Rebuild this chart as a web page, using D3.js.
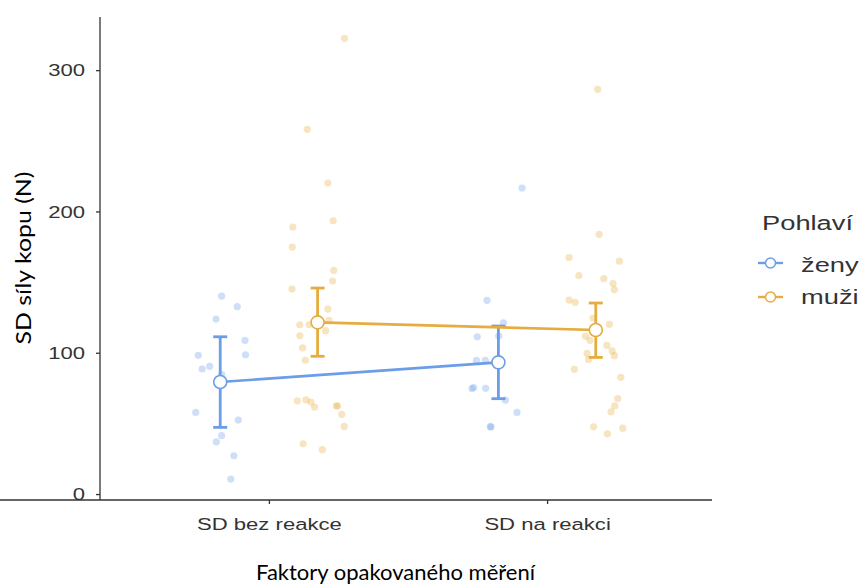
<!DOCTYPE html>
<html>
<head>
<meta charset="utf-8">
<script src="https://cdn.jsdelivr.net/npm/d3@7"></script>
<style>
  body { margin: 0; background: #fff; }
  svg { display: block; }
</style>
</head>
<body>
<div id="chart"></div>
<script>
// Categories and groups
const categories = ['SD bez reakce', 'SD na reakci'];
const groups = ['ženy', 'muži'];
const groupColors = ['#6B9DE8', '#E6AC40'];

// Means and 95% CI per group, per category
const meanZeny = [79.3, 93.2];
const lowZeny = [47.2, 67.5];
const highZeny = [111.3, 118.9];
const meanMuzi = [121.5, 116.1];
const lowMuzi = [97.5, 96.7];
const highMuzi = [145.8, 135.2];

// Raw observations (values) and jitter (fraction of category step)
const zenyBez = [140.1, 132.6, 123.8, 108.8, 98.2, 98.6, 88.5, 90.4, 84.7, 57.8, 52.4, 41.3, 37.0, 27.1, 10.6];
const zenyBezJit = [0.005, 0.061, -0.015, 0.089, -0.079, 0.091, -0.065, -0.038, 0.005, -0.088, 0.065, 0.005, -0.014, 0.049, 0.038];
const zenyNa = [216.6, 137.1, 121.2, 111.3, 111.8, 94.6, 94.6, 74.7, 75.4, 74.8, 66.5, 57.8, 47.9, 47.4, 91.0];
const zenyNaJit = [0.085, -0.041, 0.018, -0.076, 0.001, -0.079, -0.047, -0.095, -0.089, -0.046, 0.025, 0.067, -0.029, -0.027, -0.007];
const muziBez = [322.5, 258.1, 220.1, 193.4, 189.0, 174.8, 158.3, 150.7, 145.1, 130.9, 122.9, 119.8, 120.0, 115.6, 112.0, 103.5, 94.7, 66.0, 66.7, 65.1, 61.6, 62.5, 62.3, 56.4, 47.9, 35.6, 31.4];
const muziBezJit = [0.097, -0.037, 0.037, 0.056, -0.089, -0.091, 0.058, 0.054, -0.092, 0.037, 0.041, -0.064, -0.030, 0.029, -0.064, -0.054, -0.044, -0.073, -0.042, -0.024, -0.011, 0.067, 0.072, 0.087, 0.096, -0.052, 0.017];
const muziNa = [286.4, 183.8, 167.4, 164.8, 154.6, 152.4, 149.0, 144.7, 137.3, 135.7, 124.6, 120.1, 111.7, 108.8, 105.2, 101.3, 97.9, 99.6, 95.3, 88.3, 82.6, 67.6, 62.4, 58.2, 47.6, 42.6, 46.6];
const muziNaJit = [0.007, 0.012, -0.096, 0.085, -0.061, 0.029, 0.062, 0.067, -0.096, -0.074, -0.010, 0.049, -0.037, -0.021, 0.040, 0.059, 0.067, -0.031, -0.026, -0.077, 0.090, 0.079, 0.068, 0.055, -0.008, 0.042, 0.097];

const yTicks = [0, 100, 200, 300];

const W = 863, H = 586;
const dodge = [-0.175, 0.175];
const stretch = 1.3; // reference text is horizontally stretched

const svg = d3.select('#chart').append('svg')
    .attr('width', W).attr('height', H);

const x = d3.scalePoint().domain(categories).range([102, 714]).padding(0.6);
const step = x.step();
const y = d3.scaleLinear().domain([-4.2, 337.6]).range([500, 17]);

// Build rows
const series = [
    { g: 0, mean: meanZeny, low: lowZeny, high: highZeny, raw: [zenyBez, zenyNa], jit: [zenyBezJit, zenyNaJit] },
    { g: 1, mean: meanMuzi, low: lowMuzi, high: highMuzi, raw: [muziBez, muziNa], jit: [muziBezJit, muziNaJit] }
];

const pts = [];
series.forEach(s => {
    categories.forEach((c, ci) => {
        s.raw[ci].forEach((v, i) => pts.push({ g: s.g, c, v, j: s.jit[ci][i] }));
    });
});

// Jittered points
svg.append('g').selectAll('circle')
    .data(pts)
    .join('circle')
    .attr('cx', d => x(d.c) + (dodge[d.g] + d.j) * step)
    .attr('cy', d => y(d.v))
    .attr('r', 3.6)
    .attr('fill', d => groupColors[d.g])
    .attr('fill-opacity', 0.33);

// Axes
const tickFont = '"Liberation Sans", Arial, sans-serif';
const yAxis = svg.append('g')
    .attr('transform', 'translate(100,0)')
    .call(d3.axisLeft(y).tickValues(yTicks).tickSize(4).tickSizeOuter(0));
const xAxis = svg.append('g')
    .attr('transform', 'translate(0,500)')
    .call(d3.axisBottom(x).tickSize(4).tickSizeOuter(0));

[yAxis, xAxis].forEach(a => {
    a.select('.domain').attr('stroke', '#333').attr('stroke-width', 1.3);
    a.selectAll('.tick line').attr('stroke', '#333').attr('stroke-width', 1.3);
    a.selectAll('.tick text')
        .attr('fill', '#333')
        .style('font-family', tickFont)
        .style('font-size', '17px')
        .attr('transform', `scale(${stretch},1)`);
});
yAxis.select('.domain').attr('d', 'M0,17V500');
xAxis.select('.domain').attr('d', 'M-2,0H712');
yAxis.selectAll('.tick text').attr('x', -11.5).attr('dy', '0.34em');
xAxis.selectAll('.tick text').attr('y', 18).attr('dy', '0.71em').attr('x', 0);

// Lines, error bars, means
series.forEach(s => {
    const col = groupColors[s.g];
    const cx = c => x(c) + dodge[s.g] * step;
    svg.append('path')
        .datum(categories.map((c, i) => [cx(c), y(s.mean[i])]))
        .attr('d', d3.line())
        .attr('fill', 'none')
        .attr('stroke', col)
        .attr('stroke-width', 2.6);

    const eb = svg.append('g').attr('stroke', col).attr('stroke-width', 2.8);
    categories.forEach((c, i) => {
        const px = cx(c);
        eb.append('line').attr('x1', px).attr('x2', px).attr('y1', y(s.low[i])).attr('y2', y(s.high[i]));
        eb.append('line').attr('x1', px - 7).attr('x2', px + 7).attr('y1', y(s.low[i])).attr('y2', y(s.low[i]));
        eb.append('line').attr('x1', px - 7).attr('x2', px + 7).attr('y1', y(s.high[i])).attr('y2', y(s.high[i]));
    });

    svg.append('g').selectAll('circle')
        .data(categories.map((c, i) => ({ c, v: s.mean[i] })))
        .join('circle')
        .attr('cx', d => cx(d.c))
        .attr('cy', d => y(d.v))
        .attr('r', 6.5)
        .attr('fill', '#fff')
        .attr('stroke', col)
        .attr('stroke-width', 1.6);
});

// Axis titles
const titleFont = 'Lato, "Open Sans", sans-serif';
svg.append('text')
    .attr('x', 395.5).attr('y', 580)
    .attr('text-anchor', 'middle')
    .style('font-family', titleFont)
    .style('font-size', '22px')
    .attr('textLength', 279).attr('lengthAdjust', 'spacingAndGlyphs')
    .attr('fill', '#000')
    .text('Faktory opakovaného měření');
svg.append('text')
    .attr('transform', 'translate(31,258) rotate(-90)')
    .attr('text-anchor', 'middle')
    .style('font-family', titleFont)
    .style('font-size', '21.5px')
    .attr('textLength', 173).attr('lengthAdjust', 'spacingAndGlyphs')
    .attr('fill', '#000')
    .text('SD síly kopu (N)');

// Legend
const legend = svg.append('g');
legend.append('text')
    .attr('transform', `translate(762,230) scale(${stretch},1)`)
    .style('font-family', tickFont)
    .style('font-size', '21px')
    .attr('fill', '#333')
    .text('Pohlaví');
const keyY = [263, 297];
groups.forEach((g, i) => {
    const k = legend.append('g').attr('transform', `translate(0,${keyY[i]})`);
    k.append('line').attr('x1', 758).attr('x2', 783).attr('y1', 0).attr('y2', 0)
        .attr('stroke', groupColors[i]).attr('stroke-width', 2.4);
    k.append('circle').attr('cx', 770.5).attr('cy', 0).attr('r', 5)
        .attr('fill', '#fff').attr('stroke', groupColors[i]).attr('stroke-width', 1.5);
    k.append('text')
        .attr('transform', `translate(801,${i === 0 ? 8.5 : 6.5}) scale(${stretch},1)`)
        .style('font-family', tickFont)
        .style('font-size', '21px')
        .attr('fill', '#333')
        .text(g);
});
</script>
</body>
</html>
